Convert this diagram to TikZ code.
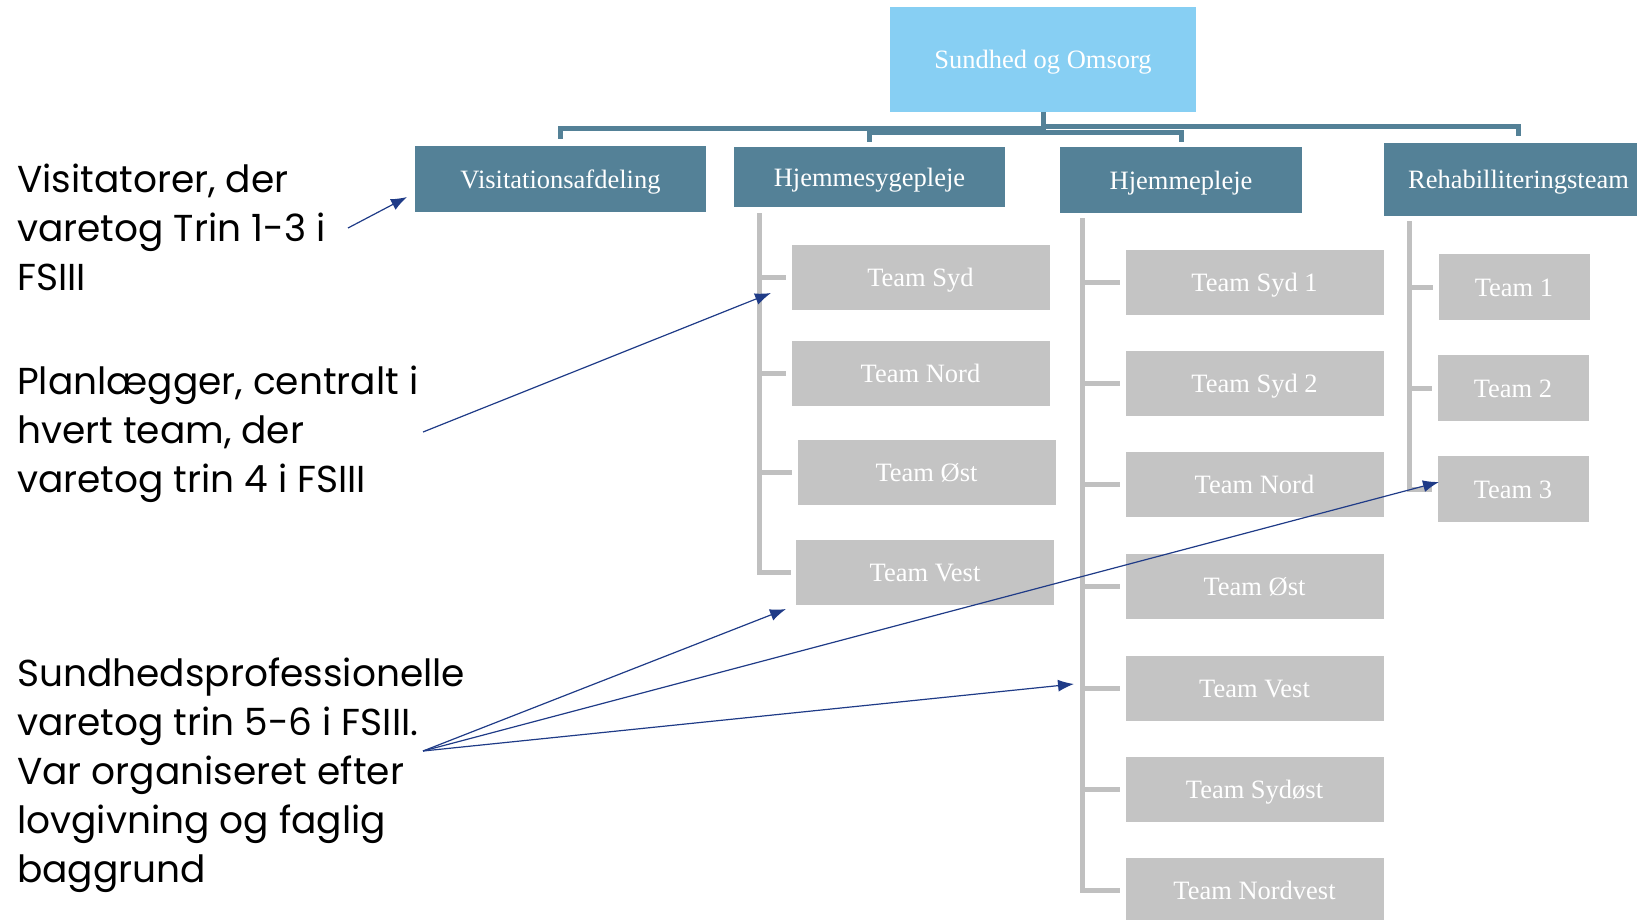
\documentclass[tikz,border=0pt]{standalone}
\usepackage{fontspec}
\setmainfont{Liberation Serif}
\newfontfamily\annfont{Poppins}
\usetikzlibrary{arrows.meta}
\definecolor{topblue}{RGB}{135,207,243}
\definecolor{midblue}{RGB}{84,129,151}
\definecolor{teamgray}{RGB}{196,196,196}
\definecolor{linegray}{RGB}{192,192,192}
\definecolor{arrowblue}{RGB}{31,59,135}
\begin{document}
\begin{tikzpicture}[x=1pt,y=-1pt,
  box/.style={inner sep=0pt, text=white, text height=18pt, text depth=0pt, font=\fontsize{26.5}{30}\selectfont},
  topbox/.style={box, fill=topblue},
  midbox/.style={box, fill=midblue},
  teambox/.style={box, fill=teamgray, minimum width=258pt, minimum height=65pt},
  smallbox/.style={box, fill=teamgray, minimum width=151pt, minimum height=66pt},
  mline/.style={draw=midblue, line width=5pt},
  gline/.style={draw=linegray, line width=5pt},
  arr/.style={draw=arrowblue, line width=1.2pt, -{Latex[length=16pt,width=12pt]}},
  ann/.style={anchor=base west, inner sep=0pt, align=left, font=\annfont\fontsize{37.5}{49}\selectfont}
]
\useasboundingbox (0,0) rectangle (1637,919);
\clip (0,0) rectangle (1637,919);

% top and level 2
\node[topbox, minimum width=306pt, minimum height=105pt] (top) at (1043,59.5) {Sundhed og Omsorg};
\node[midbox, minimum width=291pt, minimum height=66pt] (vis) at (560.5,179) {Visitationsafdeling};
\node[midbox, minimum width=271pt, minimum height=60pt] (hs) at (869.5,177) {Hjemmesygepleje};
\node[midbox, minimum width=242pt, minimum height=66pt] (hp) at (1181,180) {Hjemmepleje};
\node[midbox, minimum width=269pt, minimum height=73pt] (rh) at (1518.5,179.5) {Rehabilliteringsteam};

% level 2 connectors
\draw[mline] (top.south) -- (top.south |- 0,132);
\draw[mline] ([yshift=7pt]vis.north) |- (top.south |- 0,128);
\draw[mline] ([yshift=5pt]hs.north) |- (hp.north |- 0,132) -- ([yshift=5pt]hp.north);
\draw[mline] (top.south |- 0,126) -| ([yshift=7pt]rh.north);

% Hjemmesygepleje teams
\node[teambox] (hs1) at (920.5,277) {Team Syd};
\node[teambox] (hs2) at (920.5,373) {Team Nord};
\node[teambox] (hs3) at (926.5,472) {Team Øst};
\node[teambox] (hs4) at (925,572.5) {Team Vest};
\coordinate (hsT) at (759,213);
\draw[gline] (hsT |- hs1.west) -- ([xshift=-5pt]hs1.west);
\draw[gline] (hsT |- hs2.west) -- ([xshift=-5pt]hs2.west);
\draw[gline] (hsT |- hs3.west) -- ([xshift=-5pt]hs3.west);
\draw[gline] (hsT) |- ([xshift=-5pt]hs4.west);

% Hjemmepleje teams
\node[teambox] (hp1) at (1254.5,282.5) {Team Syd 1};
\node[teambox] (hp2) at (1254.5,383) {Team Syd 2};
\node[teambox] (hp3) at (1254.5,484.5) {Team Nord};
\node[teambox] (hp4) at (1254.5,586.5) {Team Øst};
\node[teambox] (hp5) at (1254.5,688) {Team Vest};
\node[teambox] (hp6) at (1254.5,789) {Team Sydøst};
\node[teambox] (hp7) at (1254.5,890) {Team Nordvest};
\coordinate (hpT) at (1082,218);
\foreach \n in {hp1,hp2,hp3,hp4,hp5,hp6}{
  \draw[gline] (hpT |- \n.west) -- ([xshift=-5pt]\n.west);
}
\draw[gline] (hpT) |- ([xshift=-5pt]hp7.west);

% Rehab teams
\node[smallbox] (rh1) at (1514,287) {Team 1};
\node[smallbox] (rh2) at (1513,388) {Team 2};
\node[smallbox] (rh3) at (1513,489) {Team 3};
\coordinate (rhT) at (1409,221);
\draw[gline] (rhT |- rh1.west) -- ([xshift=-5pt]rh1.west);
\draw[gline] (rhT |- rh2.west) -- ([xshift=-5pt]rh2.west);
\draw[gline] (rhT) |- ([xshift=-5pt]rh3.west);

% annotations (base anchor = last line)
\node[ann] (n1) at (17,290) {Visitatorer, der\\varetog Trin 1-3 i\\FSIII};
\node[ann] (n2) at (17,492) {Planlægger, centralt i\\hvert team, der\\varetog trin 4 i FSIII};
\node[ann] (n3) at (17,882) {Sundhedsprofessionelle\\varetog trin 5-6 i FSIII.\\Var organiseret efter\\lovgivning og faglig\\baggrund};

\coordinate (s1) at (348,228);
\coordinate (e1) at (407,197);
\coordinate (s2) at (423,432);
\coordinate (e2) at (771,293);
\coordinate (s3) at (423,751);
\coordinate (e3a) at (786,609);
\coordinate (e3b) at (1439,482);
\coordinate (e3c) at (1074,684);
\draw[arr] (s1) -- (e1);
\draw[arr] (s2) -- (e2);
\draw[arr] (s3) -- (e3a);
\draw[arr] (s3) -- (e3b);
\draw[arr] (s3) -- (e3c);
\end{tikzpicture}
\end{document}
